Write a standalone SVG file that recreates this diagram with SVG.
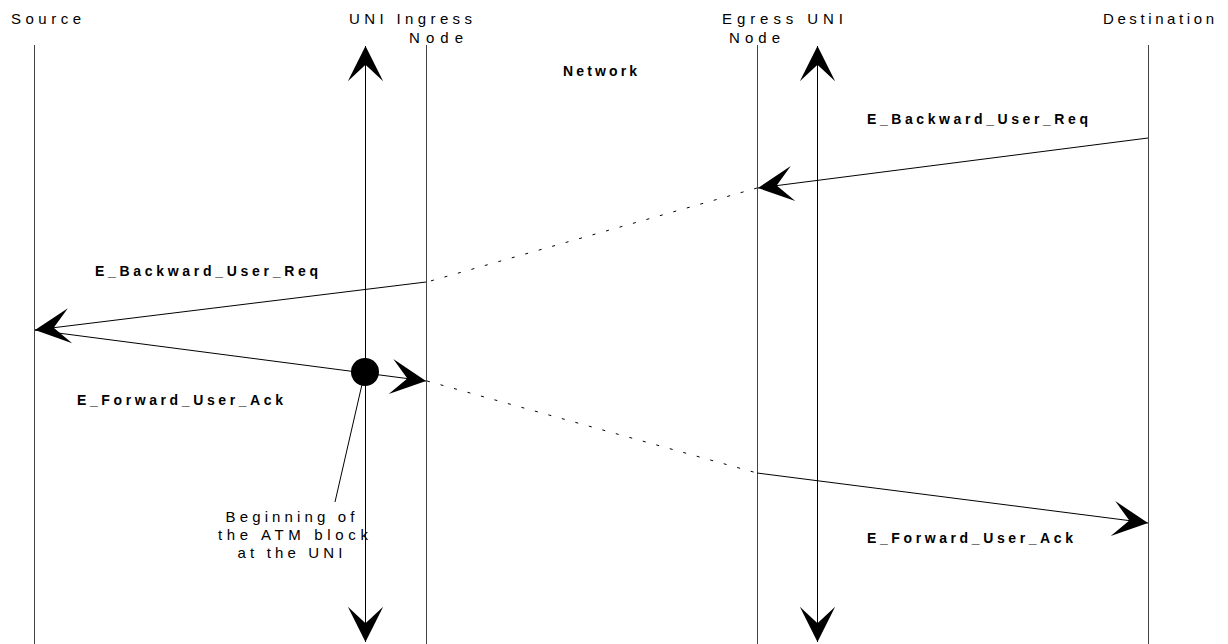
<svg xmlns="http://www.w3.org/2000/svg" width="1228" height="644" viewBox="0 0 1228 644">
  <style>
    .life { stroke: #444; stroke-width: 1; fill: none; }
    .msg { stroke: #000; stroke-width: 1; fill: none; }
    .dash { stroke: #000; stroke-width: 1; fill: none; stroke-dasharray: 3 11; }
    .uni { stroke: #000; stroke-width: 1; fill: none; marker-start: url(#head); marker-end: url(#head); }
    .lbl { font-family: "Liberation Sans", Arial, sans-serif; font-size: 15px; fill: #000; }
    .msglbl { font-family: "Liberation Sans", Arial, sans-serif; font-size: 14px; font-weight: bold; fill: #000; }
  </style>
  <defs>
    <!-- open barbed arrowhead used by every connector -->
    <marker id="head" markerUnits="userSpaceOnUse" markerWidth="40" markerHeight="40" viewBox="-32 -17 34 34" refX="0" refY="0" orient="auto-start-reverse" overflow="visible">
      <path d="M0,0 L-30,-15 L-16,0 L-30,15 Z" fill="#000"/>
    </marker>
  </defs>

  <!-- lifelines -->
  <g id="source">
    <line class="life" x1="34.5" y1="45" x2="34.5" y2="644"/>
    <text class="lbl" x="11" y="24" textLength="70" lengthAdjust="spacing">Source</text>
  </g>
  <g id="ingress-node">
    <line class="life" x1="426.5" y1="45" x2="426.5" y2="644"/>
    <text class="lbl" x="349" y="24" textLength="123" lengthAdjust="spacing">UNI Ingress</text>
    <text class="lbl" x="409" y="43" textLength="54" lengthAdjust="spacing">Node</text>
  </g>
  <g id="network">
    <text class="msglbl" x="600" y="76" text-anchor="middle" textLength="74" lengthAdjust="spacing">Network</text>
  </g>
  <g id="egress-node">
    <line class="life" x1="757.5" y1="45" x2="757.5" y2="644"/>
    <text class="lbl" x="722" y="24" textLength="121" lengthAdjust="spacing">Egress UNI</text>
    <text class="lbl" x="729" y="43" textLength="51" lengthAdjust="spacing">Node</text>
  </g>
  <g id="destination">
    <line class="life" x1="1148.5" y1="45" x2="1148.5" y2="644"/>
    <text class="lbl" x="1103" y="24" textLength="111" lengthAdjust="spacing">Destination</text>
  </g>
  <g id="uni-ingress">
    <line class="uni" x1="365.5" y1="46" x2="365.5" y2="642"/>
  </g>
  <g id="uni-egress">
    <line class="uni" x1="817.5" y1="46" x2="817.5" y2="642"/>
  </g>

  <!-- messages -->
  <g id="connectors">
    <line class="msg" x1="1148" y1="138" x2="758" y2="188" marker-end="url(#head)"/>
    <line class="dash" x1="757" y1="188" x2="427" y2="282"/>
    <line class="msg" x1="426" y1="282" x2="35" y2="330" marker-end="url(#head)"/>
    <line class="msg" x1="35" y1="330" x2="426" y2="381" marker-end="url(#head)"/>
    <line class="dash" x1="427" y1="381" x2="757" y2="473"/>
    <line class="msg" x1="757" y1="473" x2="1148" y2="523" marker-end="url(#head)"/>
  </g>

  <g id="message-labels">
    <text class="msglbl" x="867" y="124" textLength="221" lengthAdjust="spacing">E_Backward_User_Req</text>
    <text class="msglbl" x="95" y="276" textLength="223" lengthAdjust="spacing">E_Backward_User_Req</text>
    <text class="msglbl" x="77" y="405" textLength="206" lengthAdjust="spacing">E_Forward_User_Ack</text>
    <text class="msglbl" x="867" y="543" textLength="206" lengthAdjust="spacing">E_Forward_User_Ack</text>
  </g>

  <!-- marker for the start of the ATM block at the UNI -->
  <g id="atm-block-start">
    <circle cx="365" cy="372" r="14" fill="#000"/>
    <line class="msg" x1="363" y1="380" x2="335" y2="502"/>
    <text class="lbl" x="290" y="522" text-anchor="middle" textLength="129" lengthAdjust="spacing">Beginning of</text>
    <text class="lbl" x="293" y="540" text-anchor="middle" textLength="150" lengthAdjust="spacing">the ATM block</text>
    <text class="lbl" x="290" y="558" text-anchor="middle" textLength="105" lengthAdjust="spacing">at the UNI</text>
  </g>
</svg>
